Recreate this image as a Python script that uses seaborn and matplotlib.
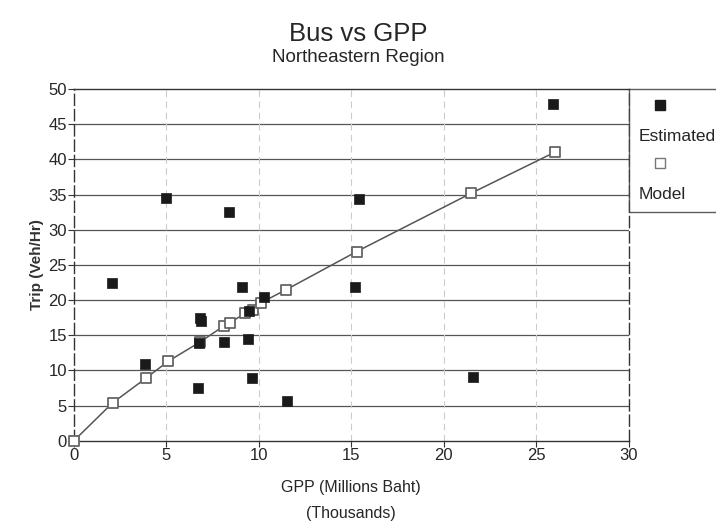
import pandas as pd
import numpy as np
import matplotlib.pyplot as plt
import seaborn as sns
from matplotlib.lines import Line2D

# Datos
est_gpp = [2.05, 3.85, 5.0, 6.7, 6.8, 6.9, 6.75, 8.1, 8.4, 9.1, 9.4, 9.5, 9.65,
           10.3, 11.55, 15.2, 15.4, 21.6, 25.9]
est_trip = [22.4, 10.9, 34.5, 7.5, 17.5, 17.1, 13.9, 14.0, 32.5, 21.9, 14.5, 18.5, 9.0,
            20.5, 5.6, 21.9, 34.3, 9.1, 47.8]

model_gpp = [0.0, 2.1, 3.9, 5.1, 6.8, 8.1, 8.45, 9.25, 9.7, 10.1, 11.5, 15.3, 21.5, 26.0]
model_trip = [0.0, 5.4, 8.9, 11.3, 14.0, 16.3, 16.8, 18.1, 18.6, 19.6, 21.5, 26.9, 35.2, 41.0]

x_ticks = [0, 5, 10, 15, 20, 25, 30]
y_ticks = [0, 5, 10, 15, 20, 25, 30, 35, 40, 45, 50]

est = pd.DataFrame({'GPP': est_gpp, 'Trip': est_trip})
model = pd.DataFrame({'GPP': model_gpp, 'Trip': model_trip})

sns.set_style('white')
plt.rcParams['font.family'] = ['Liberation Sans', 'DejaVu Sans']

fig = plt.figure(figsize=(7.16, 5.23), dpi=100)
ax = fig.add_axes([0.103, 0.157, 0.775, 0.673])

# Grilla
for y in y_ticks[1:-1]:
    ax.axhline(y, color='#555555', lw=0.9, zorder=0)
for x in x_ticks[1:-1]:
    ax.axvline(x, color='#cccccc', lw=0.8, ls=(0, (6, 4)), zorder=0)

sns.lineplot(data=model, x='GPP', y='Trip', ax=ax, color='#555555', lw=1.1,
             sort=True, estimator=None, zorder=2)
sns.scatterplot(data=model, x='GPP', y='Trip', ax=ax, marker='s', s=50,
                facecolor='white', edgecolor='#666666', linewidth=1.3, zorder=3,
                clip_on=False)
sns.scatterplot(data=est, x='GPP', y='Trip', ax=ax, marker='s', s=60,
                color='#1a1a1a', edgecolor='#1a1a1a', linewidth=0.5, zorder=4)

ax.set_xlim(0, 30)
ax.set_ylim(0, 50)
ax.set_xticks(x_ticks)
ax.set_yticks(y_ticks)
ax.tick_params(axis='both', labelsize=12, length=4, direction='out',
               color='#333333', left=True, bottom=True, pad=1)
for s in ax.spines.values():
    s.set_color('#333333')
    s.set_linewidth(1.0)
ax.spines['left'].set_linestyle((0, (8, 3)))
ax.spines['right'].set_linestyle((0, (8, 3)))

ax.set_xlabel('GPP (Millions Baht)\n(Thousands)', fontsize=11.5, labelpad=12,
              linespacing=1.95)
ax.set_ylabel('Trip (Veh/Hr)', fontsize=11, labelpad=3, fontweight='bold',
              color='#333333')

fig.text(0.5, 0.935, 'Bus vs GPP', ha='center', va='center', fontsize=18.5)
fig.text(0.5, 0.89, 'Northeastern Region', ha='center', va='center', fontsize=13.5)

# Leyenda (marcador arriba del texto)
h_est = Line2D([], [], marker='s', ls='none', color='#1a1a1a', markersize=7)
h_mod = Line2D([], [], marker='s', ls='none', markerfacecolor='white',
               markeredgecolor='#777777', markersize=7)
h_blank = Line2D([], [], ls='none')
leg = ax.legend([h_est, h_blank, h_mod, h_blank], [' ', 'Estimated', ' ', 'Model'],
                loc='upper left', bbox_to_anchor=(1.0, 1.0), borderaxespad=0,
                frameon=True, fancybox=False, fontsize=12.5, handlelength=2.4,
                handletextpad=-2.4, labelspacing=0.8, borderpad=0.6)
leg.get_frame().set_edgecolor('#333333')
leg.get_frame().set_linewidth(1.0)

plt.savefig('out.png', dpi=100)
